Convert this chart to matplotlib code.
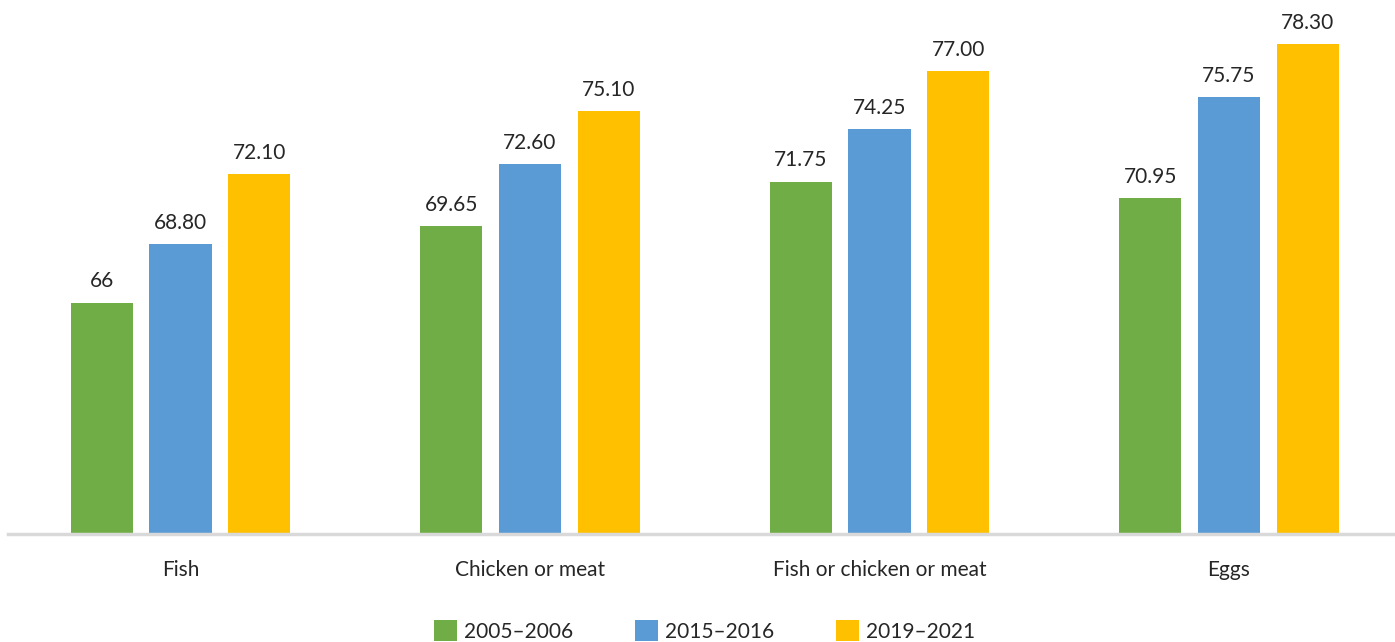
import matplotlib
matplotlib.use("Agg")
import matplotlib.pyplot as plt
import numpy as np

plt.rcParams['font.family'] = ['Lato', 'DejaVu Sans']

categories = ["Fish", "Chicken or meat", "Fish or chicken or meat", "Eggs"]
series_names = ["2005\u20132006", "2015\u20132016", "2019\u20132021"]
values_2005 = [66.00, 69.65, 71.75, 70.95]
values_2015 = [68.80, 72.60, 74.25, 75.75]
values_2019 = [72.10, 75.10, 77.00, 78.30]
labels_2005 = ["66", "69.65", "71.75", "70.95"]
labels_2015 = ["68.80", "72.60", "74.25", "75.75"]
labels_2019 = ["72.10", "75.10", "77.00", "78.30"]

colors = ["#70AD47", "#5B9BD5", "#FFC000"]
text_color = "#262626"
fs = 15

W, H = 1395, 642
fig = plt.figure(figsize=(W / 100, H / 100), dpi=100)
ax = fig.add_axes([8 / W, 1 - 534 / H, 1 - 8 / W, 526 / H])

x = np.arange(len(categories))
step = 0.225
width = 0.178
all_vals = [values_2005, values_2015, values_2019]
all_labels = [labels_2005, labels_2015, labels_2019]
for i, (vals, labs) in enumerate(zip(all_vals, all_labels)):
    pos = x + (i - 1) * step
    bars = ax.bar(pos, vals, width=width, color=colors[i], label=series_names[i],
                  zorder=2)
    for b, lab in zip(bars, labs):
        ax.annotate(lab, (b.get_x() + b.get_width() / 2, b.get_height()),
                    xytext=(0, 8), textcoords="offset points",
                    ha="center", va="bottom", fontsize=fs, color=text_color)

ax.set_ylim(55, 80)
ax.set_xlim((8 - 180.5) / 349.5, (1395 - 180.5) / 349.5)

for s in ["top", "right", "left"]:
    ax.spines[s].set_visible(False)
ax.spines["bottom"].set_color("#D9D9D9")
ax.spines["bottom"].set_linewidth(2.5)
ax.spines["bottom"].set_zorder(3)
ax.set_yticks([])
ax.set_xticks(x)
ax.set_xticklabels(categories, fontsize=fs, color=text_color)
ax.tick_params(axis="x", length=0, pad=19)

leg = fig.legend(loc="upper center", bbox_to_anchor=(0.505, 1 - 620 / H),
                 ncol=3, frameon=False, fontsize=fs,
                 handlelength=1.1, handleheight=1.2, handletextpad=0.35,
                 columnspacing=2.95, borderaxespad=0, borderpad=0)
for t in leg.get_texts():
    t.set_color(text_color)

fig.savefig("out.png", dpi=100)
